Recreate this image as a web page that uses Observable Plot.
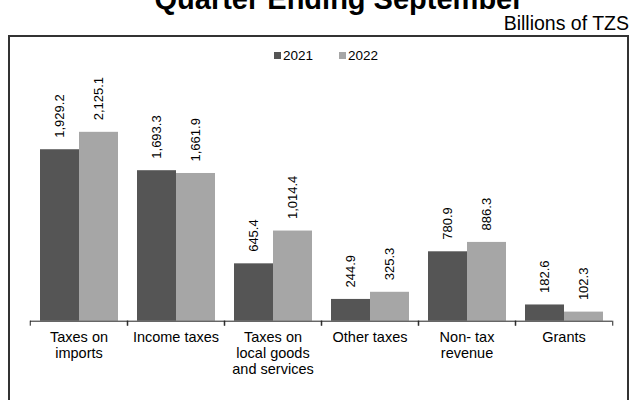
<!DOCTYPE html>
<html>
<head>
<meta charset="utf-8">
<script src="https://cdn.jsdelivr.net/npm/d3@7"></script>
<script src="https://cdn.jsdelivr.net/npm/@observablehq/plot@0.6"></script>
<style>
  html, body { margin: 0; padding: 0; background: #fff; }
  body { width: 632px; height: 400px; position: relative; overflow: hidden; font-family: "Liberation Sans", Arial, sans-serif; color: #000; }
  #title { position: absolute; left: 339px; top: -15px; transform: translateX(-50%); font-weight: bold; font-size: 29px; line-height: 1; white-space: nowrap; }
  #unit { position: absolute; right: 3px; top: 14px; font-size: 19.5px; line-height: 1; white-space: nowrap; }
  #box { position: absolute; left: 8px; top: 35px; width: 621px; height: 400px; border: 2px solid #333; box-sizing: border-box; }
  #legend { position: absolute; top: 48px; left: 0; width: 652px; display: flex; justify-content: center; gap: 26px; font-size: 13.5px; line-height: 15px; }
  #legend span.item { display: inline-flex; align-items: center; }
  #legend span.sw { display: inline-block; width: 7px; height: 7px; margin-right: 2px; }
  #chart { position: absolute; left: 0; top: 0; }
</style>
</head>
<body>
<div id="title">Quarter Ending September</div>
<div id="unit">Billions of TZS</div>
<div id="box"></div>
<div id="legend"></div>
<div id="chart"></div>
<script>
const categories = ["Taxes on imports", "Income taxes", "Taxes on local goods and services", "Other taxes", "Non- tax revenue", "Grants"];
const categoryLabels = ["Taxes on\nimports", "Income taxes", "Taxes on\nlocal goods\nand services", "Other taxes", "Non- tax\nrevenue", "Grants"];
const years = ["2021", "2022"];
const values2021 = [1929.2, 1693.3, 645.4, 244.9, 780.9, 182.6];
const values2022 = [2125.1, 1661.9, 1014.4, 325.3, 886.3, 102.3];
const colors = ["#555555", "#a6a6a6"];

const series = [values2021, values2022];
const data = [];
categories.forEach((c, i) => years.forEach((y, j) => data.push({category: c, year: y, value: series[j][i]})));

const fmt = d3.format(",.1f");
const W = 632, H = 400, mL = 28, mR = 19;
const step = (W - mL - mR) / categories.length;

// legend
const legend = document.getElementById("legend");
years.forEach((y, j) => {
  const item = document.createElement("span");
  item.className = "item";
  const sw = document.createElement("span");
  sw.className = "sw";
  sw.style.background = colors[j];
  item.appendChild(sw);
  item.appendChild(document.createTextNode(y));
  legend.appendChild(item);
});

const chart = Plot.plot({
  width: W,
  height: H,
  marginLeft: mL,
  marginRight: mR,
  marginTop: 98.5,
  marginBottom: 79.3,
  style: {fontFamily: "'Liberation Sans', Arial, sans-serif", background: "transparent", overflow: "visible"},
  fx: {domain: categories, padding: 0, axis: null, label: null},
  x: {domain: years, paddingInner: 0, paddingOuter: 0.24, axis: null},
  y: {domain: [0, 2500], axis: null},
  color: {domain: years, range: colors},
  marks: [
    Plot.barY(data, {fx: "category", x: "year", y: "value", fill: "year"}),
    Plot.text(data, {fx: "category", x: "year", y: "value", text: d => fmt(d.value), rotate: -90, textAnchor: "start", dy: -12, fontSize: 13, fill: "#000"}),
    Plot.ruleY([0], {stroke: "#222", strokeWidth: 1}),
    Plot.axisFx({anchor: "bottom", label: null, tickSize: 5, tickFormat: () => "", dx: -step / 2, stroke: "#222"}),
    Plot.axisFx({anchor: "bottom", label: null, tickSize: 5, tickFormat: () => "", dx: step / 2, stroke: "#222"}),
    Plot.text(categories, {fx: d => d, frameAnchor: "bottom", text: d => categoryLabels[categories.indexOf(d)], lineAnchor: "top", dy: 9, lineHeight: 1.12, fontSize: 14.5, fill: "#000"})
  ]
});
document.getElementById("chart").appendChild(chart);
</script>
</body>
</html>
